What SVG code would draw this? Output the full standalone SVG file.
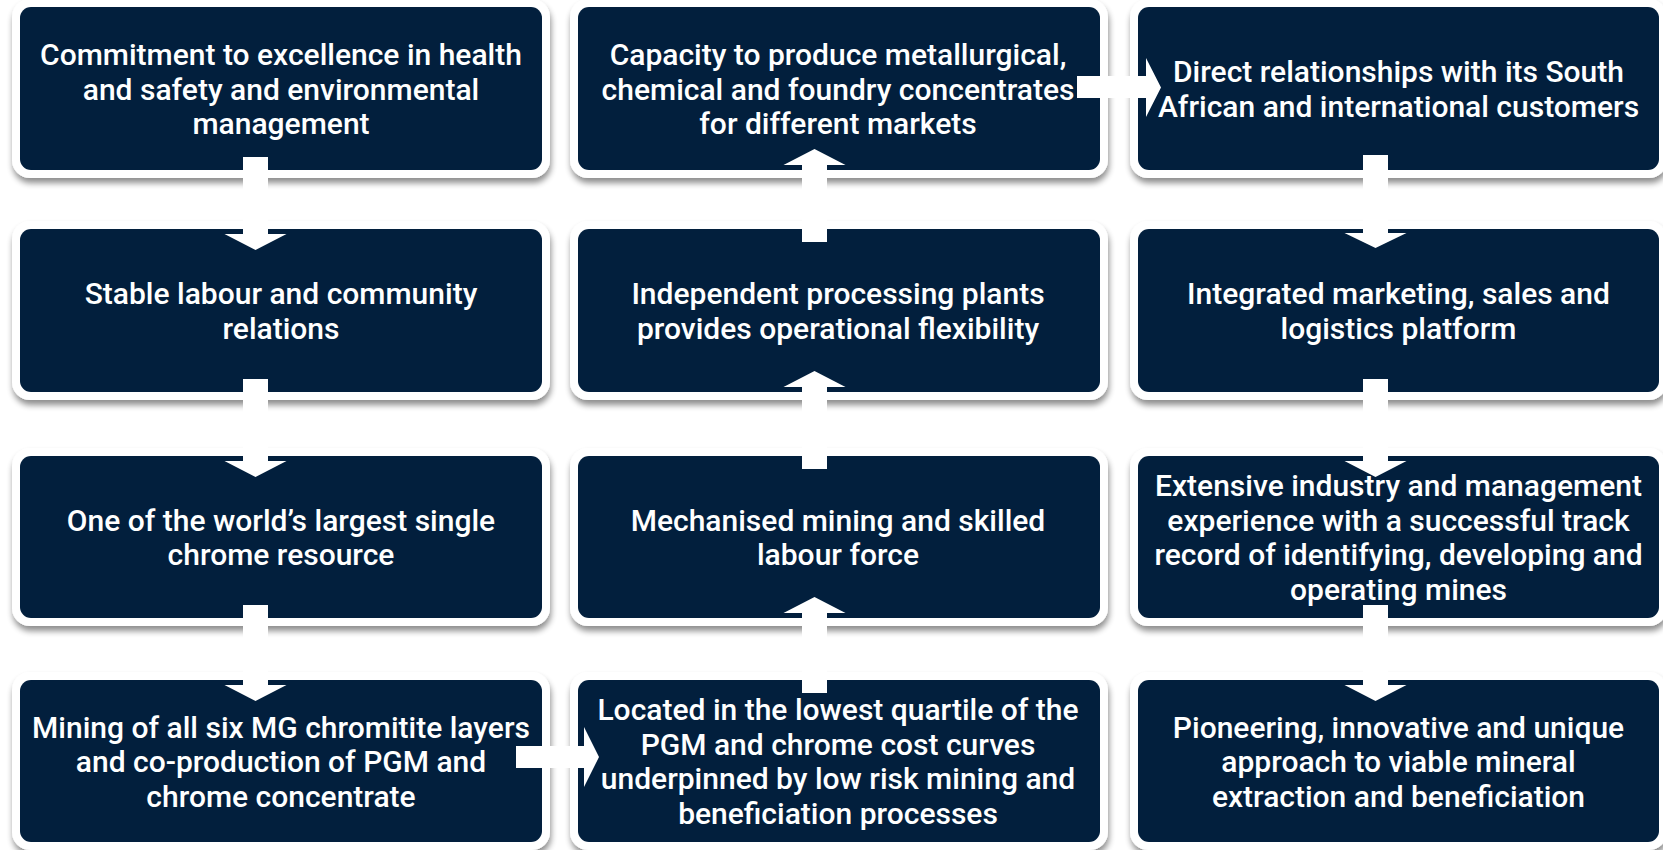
<svg xmlns="http://www.w3.org/2000/svg" width="1663" height="850" viewBox="0 0 1663 850">
  <defs>
    <filter id="shadow" x="-5%" y="-10%" width="110%" height="130%">
      <feGaussianBlur in="SourceAlpha" stdDeviation="3"/>
      <feOffset dx="1" dy="5" result="blur"/>
      <feComponentTransfer><feFuncA type="linear" slope="0.45"/></feComponentTransfer>
      <feMerge><feMergeNode/><feMergeNode in="SourceGraphic"/></feMerge>
    </filter>
    <style>
      .frame { fill: #ffffff; filter: url(#shadow); }
      .panel { fill: #021f3d; }
      .label { fill: #ffffff; font-family: Roboto, "Liberation Sans", Arial, sans-serif; font-weight: 500; font-size: 30px; text-anchor: middle; }
      .arrow { fill: #ffffff; }
    </style>
  </defs>
  <rect width="1663" height="850" fill="#ffffff"/>

  <!-- Column 1 -->
  <g id="health-safety">
    <rect class="frame" x="12" y="-1" width="538" height="179" rx="18"/>
    <rect class="panel" x="20" y="7" width="522" height="163" rx="11"/>
    <text class="label"><tspan x="281" y="65">Commitment to excellence in health</tspan><tspan x="281" y="99.5">and safety and environmental</tspan><tspan x="281" y="134">management</tspan></text>
  </g>
  <g id="labour-relations">
    <rect class="frame" x="12" y="221" width="538" height="179" rx="18"/>
    <rect class="panel" x="20" y="229" width="522" height="163" rx="11"/>
    <text class="label"><tspan x="281" y="304.25">Stable labour and community</tspan><tspan x="281" y="338.75">relations</tspan></text>
  </g>
  <g id="chrome-resource">
    <rect class="frame" x="12" y="448" width="538" height="178" rx="18"/>
    <rect class="panel" x="20" y="456" width="522" height="162" rx="11"/>
    <text class="label"><tspan x="281" y="530.75">One of the world’s largest single</tspan><tspan x="281" y="565.25">chrome resource</tspan></text>
  </g>
  <g id="mg-layers">
    <rect class="frame" x="12" y="672" width="538" height="178" rx="18"/>
    <rect class="panel" x="20" y="680" width="522" height="162" rx="11"/>
    <text class="label"><tspan x="281" y="737.5">Mining of all six MG chromitite layers</tspan><tspan x="281" y="772">and co-production of PGM and</tspan><tspan x="281" y="806.5">chrome concentrate</tspan></text>
  </g>

  <!-- Column 2 -->
  <g id="concentrates">
    <rect class="frame" x="570" y="-1" width="538" height="179" rx="18"/>
    <rect class="panel" x="578" y="7" width="522" height="163" rx="11"/>
    <text class="label"><tspan x="838" y="65">Capacity to produce metallurgical,</tspan><tspan x="838" y="99.5">chemical and foundry concentrates</tspan><tspan x="838" y="134">for different markets</tspan></text>
  </g>
  <g id="processing-plants">
    <rect class="frame" x="570" y="221" width="538" height="179" rx="18"/>
    <rect class="panel" x="578" y="229" width="522" height="163" rx="11"/>
    <text class="label"><tspan x="838" y="304.25">Independent processing plants</tspan><tspan x="838" y="338.75">provides operational flexibility</tspan></text>
  </g>
  <g id="mechanised-mining">
    <rect class="frame" x="570" y="448" width="538" height="178" rx="18"/>
    <rect class="panel" x="578" y="456" width="522" height="162" rx="11"/>
    <text class="label"><tspan x="838" y="530.75">Mechanised mining and skilled</tspan><tspan x="838" y="565.25">labour force</tspan></text>
  </g>
  <g id="cost-curves">
    <rect class="frame" x="570" y="672" width="538" height="178" rx="18"/>
    <rect class="panel" x="578" y="680" width="522" height="162" rx="11"/>
    <text class="label"><tspan x="838" y="720.25">Located in the lowest quartile of the</tspan><tspan x="838" y="754.75">PGM and chrome cost curves</tspan><tspan x="838" y="789.25">underpinned by low risk mining and</tspan><tspan x="838" y="823.75">beneficiation processes</tspan></text>
  </g>

  <!-- Column 3 -->
  <g id="customers">
    <rect class="frame" x="1130" y="-1" width="537" height="179" rx="18"/>
    <rect class="panel" x="1138" y="7" width="521" height="163" rx="11"/>
    <text class="label"><tspan x="1398.5" y="82.25">Direct relationships with its South</tspan><tspan x="1398.5" y="116.75">African and international customers</tspan></text>
  </g>
  <g id="marketing-platform">
    <rect class="frame" x="1130" y="221" width="537" height="179" rx="18"/>
    <rect class="panel" x="1138" y="229" width="521" height="163" rx="11"/>
    <text class="label"><tspan x="1398.5" y="304.25">Integrated marketing, sales and</tspan><tspan x="1398.5" y="338.75">logistics platform</tspan></text>
  </g>
  <g id="management-experience">
    <rect class="frame" x="1130" y="448" width="537" height="178" rx="18"/>
    <rect class="panel" x="1138" y="456" width="521" height="162" rx="11"/>
    <text class="label"><tspan x="1398.5" y="496.25">Extensive industry and management</tspan><tspan x="1398.5" y="530.75">experience with a successful track</tspan><tspan x="1398.5" y="565.25">record of identifying, developing and</tspan><tspan x="1398.5" y="599.75">operating mines</tspan></text>
  </g>
  <g id="pioneering-approach">
    <rect class="frame" x="1130" y="672" width="537" height="178" rx="18"/>
    <rect class="panel" x="1138" y="680" width="521" height="162" rx="11"/>
    <text class="label"><tspan x="1398.5" y="737.5">Pioneering, innovative and unique</tspan><tspan x="1398.5" y="772">approach to viable mineral</tspan><tspan x="1398.5" y="806.5">extraction and beneficiation</tspan></text>
  </g>

  <!-- Block arrows linking the panels -->
  <g id="connectors">
    <!-- column 1, downward -->
    <path class="arrow" d="M243 157 H268 V234 H286.5 L255.5 250 L224.5 234 H243 Z"/>
    <path class="arrow" d="M243 379 H268 V461 H286.5 L255.5 477 L224.5 461 H243 Z"/>
    <path class="arrow" d="M243 605 H268 V685 H286.5 L255.5 701 L224.5 685 H243 Z"/>
    <!-- bottom row, column 1 to column 2 -->
    <path class="arrow" d="M516 746 H584 V727 L599 757 L584 787 V768 H516 Z"/>
    <!-- column 2, upward -->
    <path class="arrow" d="M802 693 H827 V613 H845.5 L814.5 597 L783.5 613 H802 Z"/>
    <path class="arrow" d="M802 469 H827 V387 H845.5 L814.5 371 L783.5 387 H802 Z"/>
    <path class="arrow" d="M802 242 H827 V165 H845.5 L814.5 149 L783.5 165 H802 Z"/>
    <!-- top row, column 2 to column 3 -->
    <path class="arrow" d="M1077 76 H1146 V58 L1161 87.5 L1146 117 V98 H1077 Z"/>
    <!-- column 3, downward -->
    <path class="arrow" d="M1363 155 H1388 V233 H1406.5 L1375.5 248 L1344.5 233 H1363 Z"/>
    <path class="arrow" d="M1363 379 H1388 V461 H1406.5 L1375.5 477 L1344.5 461 H1363 Z"/>
    <path class="arrow" d="M1363 605 H1388 V685 H1406.5 L1375.5 701 L1344.5 685 H1363 Z"/>
  </g>
</svg>
